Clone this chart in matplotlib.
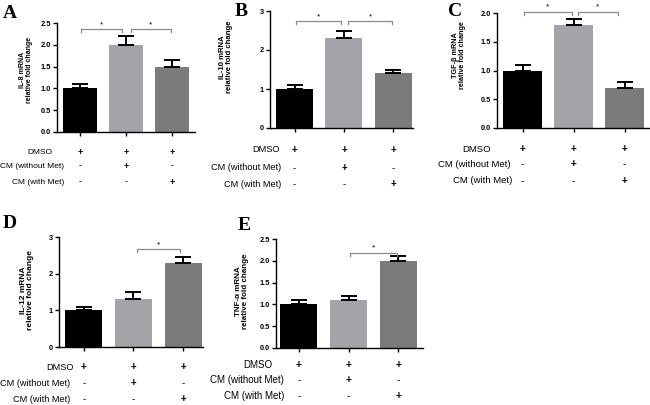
import matplotlib
matplotlib.use("Agg")
import matplotlib.pyplot as plt
import matplotlib.transforms as mtransforms

plt.rcParams['font.family'] = ['Liberation Sans', 'DejaVu Sans']

# ---------------- data ----------------
row_labels = ['DMSO', 'CM (without Met)', 'CM (with Met)']
row_signs = [['+', '+', '+'], ['-', '+', '-'], ['-', '-', '+']]
bar_colors = ['#000000', '#a4a4a8', '#7b7b7b']

il8_mean = [1.0, 2.0, 1.5]
il8_err = [0.1, 0.2, 0.15]
il10_mean = [1.0, 2.3, 1.4]
il10_err = [0.1, 0.2, 0.1]
tgfb_mean = [1.0, 1.8, 0.7]
tgfb_err = [0.1, 0.1, 0.1]
il12_mean = [1.0, 1.3, 2.3]
il12_err = [0.1, 0.2, 0.15]
tnfa_mean = [1.0, 1.1, 2.0]
tnfa_err = [0.1, 0.1, 0.1]

W, H = 650, 405
fig = plt.figure(figsize=(W / 100, H / 100), dpi=100)


def px_rect(l, t, r, b):
    return [l / W, 1 - b / H, (r - l) / W, (b - t) / H]


def panel(letter, letter_xy, rect, xlim, ymax, ystep, fmt, gene, ylab_xy,
          ylab_fs, means, errs, brackets, rows_y, lab_right, lab_fs):
    ax = fig.add_axes(px_rect(*rect))
    x = list(range(len(means)))
    ax.bar(x, means, width=0.75, color=bar_colors, edgecolor='none', zorder=2)
    for xi, m, e in zip(x, means, errs):
        ax.errorbar(xi, m, yerr=[[0], [e]], fmt='none', ecolor='black',
                    elinewidth=1.4, capsize=5.5, capthick=1.4, zorder=3)
    ax.set_xlim(*xlim)
    ax.set_ylim(0, ymax)
    n = int(round(ymax / ystep))
    ticks = [i * ystep for i in range(n + 1)]
    ax.set_yticks(ticks)
    ax.set_yticklabels([fmt.format(t) for t in ticks], fontsize=5.3,
                       fontweight='bold')
    ax.set_xticks(x)
    ax.set_xticklabels([])
    for s in ['top', 'right']:
        ax.spines[s].set_visible(False)
    for s in ['left', 'bottom']:
        ax.spines[s].set_linewidth(1.0)
    ax.tick_params(axis='both', length=3, width=1.0, pad=1.5)
    # brackets
    tick = ymax * 0.025
    for (i, j, hy) in brackets:
        xa, xb = i + 0.03, j - 0.03
        ax.plot([xa, xa, xb, xb], [hy - tick, hy, hy, hy - tick],
                color='#8a8a8a', lw=0.9, clip_on=False, zorder=4)
        ax.text((i + j) / 2, hy + ymax * 0.01, '*', ha='center', va='bottom',
                fontsize=6, clip_on=False)
    # y label
    fig.text(ylab_xy[0] / W, 1 - ylab_xy[1] / H,
             gene + ' mRNA\nrelative fold change', rotation=90,
             ha='center', va='center', fontsize=ylab_fs, fontweight='bold',
             linespacing=1.1)
    # panel letter
    fig.text(letter_xy[0] / W, 1 - letter_xy[1] / H, letter,
             family='Liberation Serif', fontweight='bold', fontsize=14,
             ha='left', va='center')
    # rows of +/-
    trans = mtransforms.blended_transform_factory(ax.transData, fig.transFigure)
    for r, (lab, signs) in enumerate(zip(row_labels, row_signs)):
        yy = 1 - rows_y[r] / H
        fig.text(lab_right[r] / W, yy, lab, ha='right', va='center',
                 fontsize=lab_fs)
        for xi, sgn in zip(x, signs):
            ax.text(xi, yy, sgn, transform=trans, ha='center', va='center',
                    fontsize=lab_fs + 0.4,
                    fontweight='bold' if sgn == '+' else 'normal')
    return ax


panel('A', (3, 13), (57, 23, 195, 132), (-0.5, 2.5), 2.5, 0.5, '{:.1f}', 'IL-8',
      (26, 70), 5.0, il8_mean, il8_err, [(0, 0.95, 2.36), (1.08, 2.0, 2.36)],
      (152, 166, 182), (52, 64, 64), 6.0)

panel('B', (235, 11), (270, 11, 413, 128), (-0.5, 2.4), 3, 1, '{:.0f}', 'IL-10',
      (226, 57), 5.6, il10_mean, il10_err, [(0, 0.97, 2.74), (1.06, 2.0, 2.74)],
      (150, 168, 184), (280, 281, 281), 6.6)

panel('C', (448, 11), (497, 13, 650, 128), (-0.5, 2.5), 2.0, 0.5, '{:.1f}', 'TGF-β',
      (459, 55), 5.2, tgfb_mean, tgfb_err, [(0, 1.0, 2.02), (1.06, 1.9, 2.02)],
      (149, 164, 181), (491, 511, 512), 6.8)

panel('D', (3, 223), (59, 237, 203, 347), (-0.5, 2.4), 3, 1, '{:.0f}', 'IL-12',
      (27, 290), 6.0, il12_mean, il12_err, [(1.05, 1.97, 2.67)],
      (367, 383, 399), (74, 70, 70), 6.6)

panel('E', (238, 225), (276, 239, 423, 348), (-0.46, 2.5), 2.5, 0.5, '{:.1f}', 'TNF-α',
      (242, 291), 5.8, tnfa_mean, tnfa_err, [(1.0, 2.0, 2.18)],
      (365, 380, 396), (272, 284, 284), 7.0)

fig.savefig('out.png', dpi=100)
